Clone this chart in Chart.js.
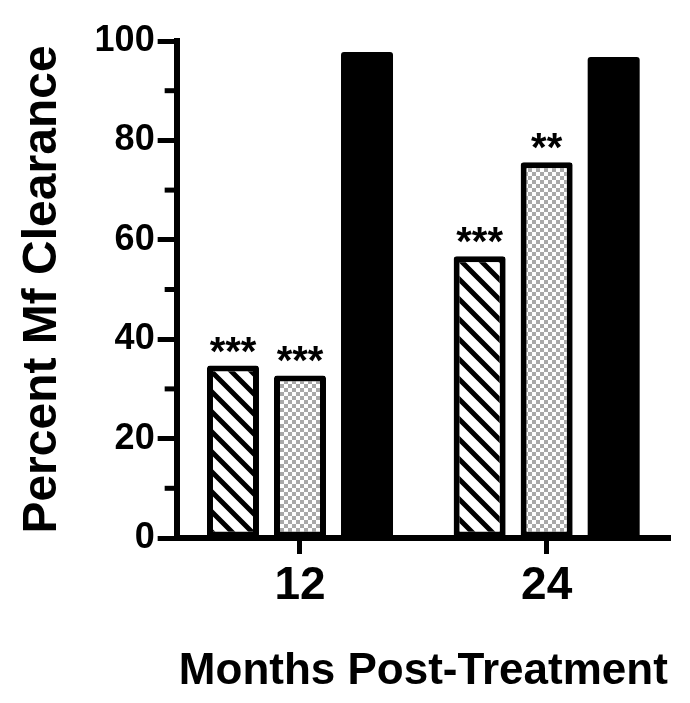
<!DOCTYPE html>
<html>
<head>
<meta charset="utf-8">
<script src="https://cdn.jsdelivr.net/npm/chart.js@4/dist/chart.umd.min.js"></script>
<style>
  html, body { margin: 0; padding: 0; background: #fff; }
  #wrap { width: 690px; height: 703px; }
</style>
</head>
<body>
<div id="wrap"><canvas id="chart" width="690" height="703"></canvas></div>
<script>
const months = ['12', '24'];
const hatchedValues = [34.7, 56.7];
const checkedValues = [32.7, 75.6];
const solidValues = [97.8, 96.8];
const hatchedStars = ['***', '***'];
const checkedStars = ['***', '**'];
const minorTicks = [10, 30, 50, 70, 90];

const FONT = "'Liberation Sans', Arial, sans-serif";

function hatchPattern() {
    const c = document.createElement('canvas');
    c.width = 20; c.height = 20;
    const g = c.getContext('2d');
    g.fillStyle = '#fff';
    g.fillRect(0, 0, 20, 20);
    g.strokeStyle = '#000';
    g.lineWidth = 5;
    g.beginPath();
    g.moveTo(-5, -5); g.lineTo(25, 25);
    g.moveTo(-5, 15); g.lineTo(5, 25);
    g.moveTo(15, -5); g.lineTo(25, 5);
    g.stroke();
    return g.createPattern(c, 'repeat');
}

function checkerPattern() {
    const c = document.createElement('canvas');
    c.width = 8; c.height = 8;
    const g = c.getContext('2d');
    g.fillStyle = '#fff';
    g.fillRect(0, 0, 8, 8);
    g.fillStyle = '#a9a9a9';
    g.fillRect(0, 0, 4, 4);
    g.fillRect(4, 4, 4, 4);
    return g.createPattern(c, 'repeat');
}

// short ticks at the odd tens of the y axis
const minorTicksPlugin = {
    id: 'minorTicks',
    afterDraw(chart) {
        const {ctx, chartArea, scales} = chart;
        ctx.save();
        ctx.strokeStyle = '#000';
        ctx.lineWidth = 5;
        for (const v of minorTicks) {
            const y = scales.y.getPixelForValue(v);
            ctx.beginPath();
            ctx.moveTo(chartArea.left - 12, y);
            ctx.lineTo(chartArea.left, y);
            ctx.stroke();
        }
        ctx.restore();
    }
};

// significance stars over the bars
const starsPlugin = {
    id: 'stars',
    afterDatasetsDraw(chart) {
        const {ctx} = chart;
        const sets = [hatchedStars, checkedStars];
        ctx.save();
        ctx.font = 'bold 40px ' + FONT;
        ctx.fillStyle = '#000';
        ctx.textAlign = 'center';
        ctx.textBaseline = 'alphabetic';
        sets.forEach((stars, di) => {
            const meta = chart.getDatasetMeta(di);
            meta.data.forEach((bar, i) => {
                if (!stars[i]) return;
                ctx.fillText(stars[i], bar.x, bar.y - 1);
            });
        });
        ctx.restore();
    }
};

Chart.register(minorTicksPlugin, starsPlugin);

const barCommon = {
    borderColor: '#000',
    borderWidth: 6,
    borderRadius: 3,
    borderSkipped: false,
    categoryPercentage: 0.815,
    barPercentage: 0.776,
};

const data = {
    labels: months,
    datasets: [
        Object.assign({label: 'Hatched', data: hatchedValues, backgroundColor: hatchPattern()}, barCommon),
        Object.assign({label: 'Checked', data: checkedValues, backgroundColor: checkerPattern()}, barCommon),
        Object.assign({label: 'Solid', data: solidValues, backgroundColor: '#000'}, barCommon, {borderWidth: 0}),
    ]
};

new Chart(document.getElementById('chart').getContext('2d'), {
    type: 'bar',
    data,
    options: {
        responsive: false,
        animation: false,
        layout: {padding: {top: 41, right: 20, bottom: 5, left: 14}},
        plugins: {
            legend: {display: false},
            tooltip: {enabled: false}
        },
        scales: {
            x: {
                grid: {drawOnChartArea: false, offset: false, tickLength: 16, tickWidth: 5, tickColor: '#000'},
                border: {display: true, width: 6, color: '#000'},
                ticks: {color: '#000', padding: 5, font: {family: FONT, size: 46, weight: 'bold'}},
                title: {
                    display: true,
                    text: 'Months Post-Treatment',
                    color: '#000',
                    font: {family: FONT, size: 44, weight: 'bold'},
                    padding: {top: 26, bottom: 0}
                }
            },
            y: {
                min: 0,
                max: 100,
                grid: {drawOnChartArea: false, tickLength: 19, tickWidth: 5, tickColor: '#000'},
                border: {display: true, width: 6, color: '#000'},
                ticks: {stepSize: 20, color: '#000', padding: 3, font: {family: FONT, size: 36, weight: 'bold'}},
                title: {
                    display: true,
                    text: 'Percent Mf Clearance',
                    color: '#000',
                    font: {family: FONT, size: 48, weight: 'bold'},
                    padding: {top: 0, bottom: 20}
                }
            }
        }
    }
});
</script>
</body>
</html>
